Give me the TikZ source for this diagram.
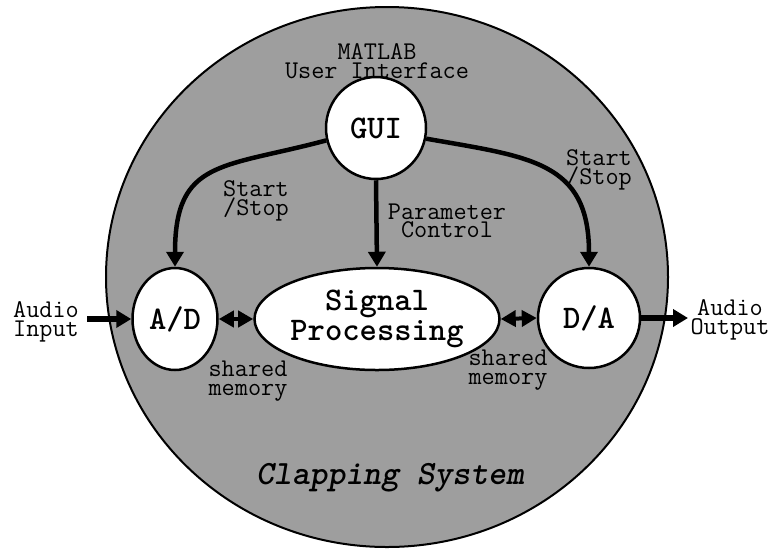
\documentclass[tikz,border=0pt]{standalone}
\usetikzlibrary{shapes.geometric,arrows.meta}
\begin{document}
\begin{tikzpicture}[x=1pt,y=-1pt,
  blob/.style={ellipse, draw=black, line width=2.5pt, fill=white, inner sep=0pt,
    font=\ttfamily\bfseries\fontsize{33}{30}\selectfont, align=center},
  lbl/.style={font=\ttfamily\fontsize{25.5}{18.5}\selectfont, align=center, inner sep=0pt},
  ctl/.style={line width=4.5pt, -{Triangle[length=15pt,width=17pt]}},
  shm/.style={line width=4pt, {Triangle[length=15pt,width=16pt]}-{Triangle[length=15pt,width=16pt]}},
  io/.style={line width=6pt, -{Triangle[length=15pt,width=17pt]}}
]
\useasboundingbox (0,0) rectangle (771,550);
\node[ellipse, draw=black, line width=2pt, fill=black!38, minimum width=562pt,
  minimum height=540pt, inner sep=0pt] (sys) at (387,277) {};

\node[blob, minimum width=100pt, minimum height=102pt] (gui) at (376,128) {GUI};
\node[blob, minimum width=85pt, minimum height=102pt] (ad) at (175,319) {A/D};
\node[blob, minimum width=220pt, minimum height=102pt] (sp) at (377,319) {Signal\\Processing};
\node[blob, minimum width=102pt, minimum height=100pt] (da) at (589,318) {D/A};

\node[lbl] (mat) at (377,61) {MATLAB\\User Interface};
\node[lbl] (ssl) at (256,201) {Start\\/Stop};
\node[lbl] (ssr) at (599,170) {Start\\/Stop};
\node[lbl] (par) at (447,221) {Parameter\\Control};
\node[lbl] (shl) at (248,381) {shared\\memory};
\node[lbl] (shr) at (508,370) {shared\\memory};
\node[lbl] (ain) at (46,322) {Audio\\Input};
\node[lbl] (aout) at (730,320) {Audio\\Output};
\node[font=\ttfamily\bfseries\itshape\fontsize{34}{34}\selectfont, inner sep=0pt] (cs) at (390,478) {Clapping System};

\coordinate (inS) at (87,319);
\coordinate (outE) at (688,318);

\draw[ctl] (gui.194) to[out=195,in=90,looseness=1.4] (ad.north);
\draw[ctl] (gui.-12) to[out=-10,in=90,looseness=1.3] (da.north);
\draw[ctl] (gui.south) -- (sp.north);
\draw[shm] (ad.east) -- (sp.west);
\draw[shm] (sp.east) -- (da.west);
\draw[io] (inS) -- (ad.west);
\draw[io] (da.east) -- (outE);
\end{tikzpicture}
\end{document}
